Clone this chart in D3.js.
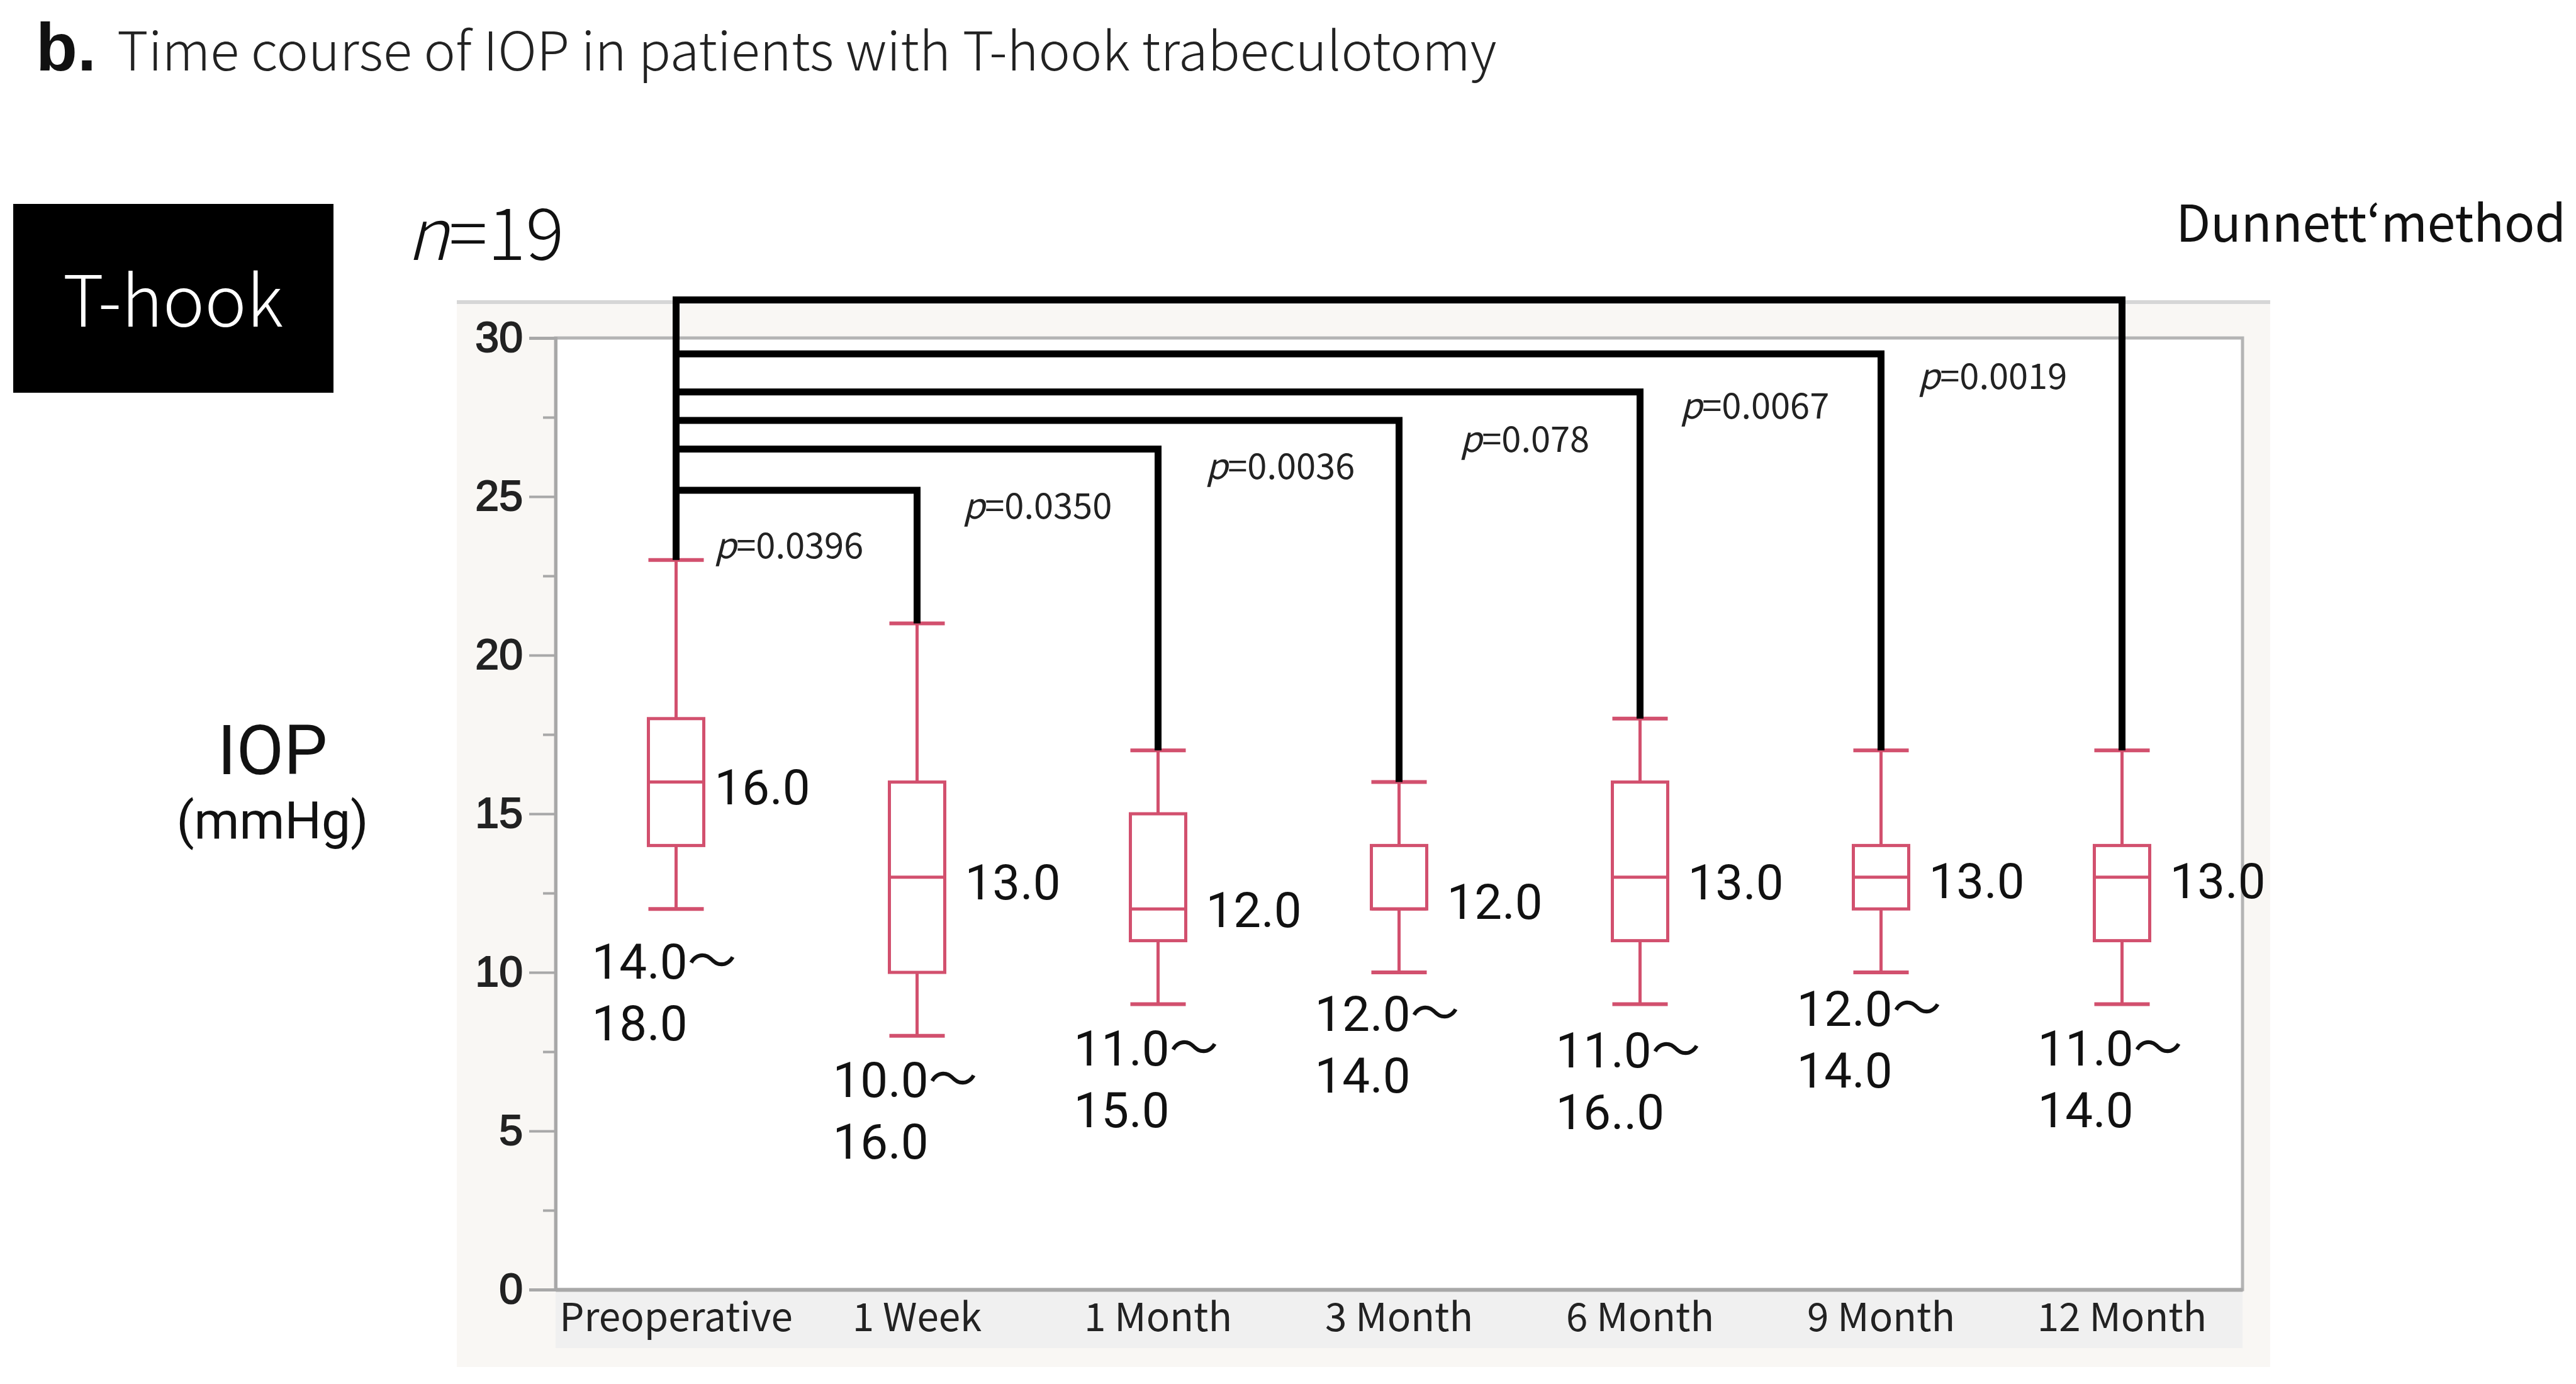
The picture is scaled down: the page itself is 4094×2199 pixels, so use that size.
<!DOCTYPE html>
<html>
<head>
<meta charset="utf-8">
<script src="https://cdn.jsdelivr.net/npm/d3@7"></script>
<style>
  body { margin: 0; background: #fff; }
  svg { display: block; }
</style>
</head>
<body>
<svg id="chart"></svg>
<script>
// Data
const categories = ["Preoperative", "1 Week", "1 Month", "3 Month", "6 Month", "9 Month", "12 Month"];
const whiskerLow  = [12, 8, 9, 10, 9, 10, 9];
const q1          = [14, 10, 11, 12, 11, 12, 11];
const median      = [16, 13, 12, 12, 13, 13, 13];
const q3          = [18, 16, 15, 14, 16, 14, 14];
const whiskerHigh = [23, 21, 17, 16, 18, 17, 17];
const medianLabels = ["16.0", "13.0", "12.0", "12.0", "13.0", "13.0", "13.0"];
const iqrLow  = ["14.0", "10.0", "11.0", "12.0", "11.0", "12.0", "11.0"];
const iqrHigh = ["18.0", "16.0", "15.0", "14.0", "16..0", "14.0", "14.0"];
const pValues = ["0.0396", "0.0350", "0.0036", "0.078", "0.0067", "0.0019"];
// bracket height (IOP units) for Preoperative vs each later visit
const bracketLevels = [25.2, 26.5, 27.4, 28.3, 29.5, 31.2];
const yTicks = [0, 5, 10, 15, 20, 25, 30];
const yMinorTicks = [2.5, 7.5, 12.5, 17.5, 22.5, 27.5];

// label nudges in pixels (hand placed in the original figure)
const medianLabelDrop = [9, 9, 2, -11, 9, 7, 7];
const iqrLabelDrop = [84, 71, 71, 66, 74, 58, 71];
const pLabelDrop = [83, 86, 68, 70, 78, 116];
const pLabelShift = [61, 73, 76, 97, 64, 59];

const W = 4094, H = 2199;
const font = "'Noto Sans CJK JP', 'Noto Sans', sans-serif";
const numFont = "Roboto, 'Noto Sans CJK JP', sans-serif";
const boxColor = "#d2506e";

const svg = d3.select("#chart")
  .attr("width", W)
  .attr("height", H)
  .attr("viewBox", `0 0 ${W} ${H}`)
  .style("font-family", font);

// plot region
const plot = { left: 883, right: 3564, top: 537, bottom: 2049 };

const x = d3.scaleBand()
  .domain(categories)
  .range([plot.left, plot.right])
  .padding(0);

const y = d3.scaleLinear()
  .domain([0, 30])
  .range([plot.bottom, plot.top]);

// Title
svg.append("text")
  .attr("x", 57)
  .attr("y", 112)
  .attr("font-family", "'Liberation Sans', Arial, sans-serif")
  .attr("font-weight", "bold")
  .attr("font-size", 108)
  .attr("fill", "#111")
  .text("b.");
svg.append("text")
  .attr("x", 186)
  .attr("y", 112)
  .attr("font-size", 85)
  .attr("font-weight", 300)
  .attr("fill", "#222")
  .text("Time course of IOP in patients with T-hook trabeculotomy");

// T-hook badge
svg.append("rect")
  .attr("x", 21).attr("y", 324)
  .attr("width", 509).attr("height", 300)
  .attr("fill", "#000");
svg.append("text")
  .attr("x", 275).attr("y", 470)
  .attr("text-anchor", "middle")
  .attr("dominant-baseline", "central")
  .attr("fill", "#fff")
  .attr("font-size", 112)
  .attr("font-weight", 300)
  .text("T-hook");

// n=19
const nText = svg.append("text")
  .attr("x", 646).attr("y", 413)
  .attr("font-size", 114)
  .attr("font-weight", 300)
  .attr("fill", "#111");
nText.append("tspan").attr("font-style", "italic").text("n");
nText.append("tspan").text("=19");

// Dunnett label
svg.append("text")
  .attr("x", 4078).attr("y", 384)
  .attr("text-anchor", "end")
  .attr("font-size", 80)
  .attr("fill", "#111")
  .text("Dunnett\u2018method");

// Y axis title
svg.append("text")
  .attr("x", 433).attr("y", 1192)
  .attr("text-anchor", "middle")
  .attr("dominant-baseline", "central")
  .attr("font-family", numFont)
  .attr("font-size", 110)
  .attr("fill", "#111")
  .text("IOP");
svg.append("text")
  .attr("x", 433).attr("y", 1304)
  .attr("text-anchor", "middle")
  .attr("dominant-baseline", "central")
  .attr("font-family", numFont)
  .attr("font-size", 82)
  .attr("fill", "#111")
  .text("(mmHg)");

// Panel background (JMP-like)
svg.append("rect")
  .attr("x", 726).attr("y", 478)
  .attr("width", 3608 - 726).attr("height", 2172 - 478)
  .attr("fill", "#f9f7f4");
svg.append("line")
  .attr("x1", 726).attr("x2", 3608)
  .attr("y1", 480).attr("y2", 480)
  .attr("stroke", "#d6d6d6")
  .attr("stroke-width", 6);

// X label strip
svg.append("rect")
  .attr("x", plot.left).attr("y", plot.bottom)
  .attr("width", plot.right - plot.left).attr("height", 2142 - plot.bottom)
  .attr("fill", "#f0f0f0");

// Plot area
svg.append("rect")
  .attr("x", plot.left).attr("y", plot.top)
  .attr("width", plot.right - plot.left).attr("height", plot.bottom - plot.top)
  .attr("fill", "#fff")
  .attr("stroke", "#b4b4b4")
  .attr("stroke-width", 5);

// Y axis
const yAxis = svg.append("g")
  .attr("transform", `translate(${plot.left},0)`)
  .call(d3.axisLeft(y).tickValues(yTicks).tickSize(42).tickPadding(10));
yAxis.select(".domain").attr("stroke", "#a8a8a8").attr("stroke-width", 5);
yAxis.selectAll(".tick line").attr("stroke", "#a8a8a8").attr("stroke-width", 4);
yAxis.selectAll(".tick text")
  .attr("font-family", "'Liberation Sans', Arial, sans-serif")
  .attr("font-size", 68)
  .attr("fill", "#222")
  .attr("stroke", "#222")
  .attr("stroke-width", 2);

const yMinor = svg.append("g")
  .attr("transform", `translate(${plot.left},0)`)
  .call(d3.axisLeft(y).tickValues(yMinorTicks).tickSize(20).tickFormat(""));
yMinor.select(".domain").remove();
yMinor.selectAll(".tick line").attr("stroke", "#a8a8a8").attr("stroke-width", 4);

// X axis
const xAxis = svg.append("g")
  .attr("transform", `translate(0,${plot.bottom})`)
  .call(d3.axisBottom(x).tickSize(0).tickPadding(22));
xAxis.select(".domain").attr("stroke", "#a8a8a8").attr("stroke-width", 6);
xAxis.selectAll(".tick text")
  .attr("font-family", font)
  .attr("font-size", 62)
  .attr("fill", "#222");

// Box plots
const rows = categories.map((c, i) => ({
  cat: c, lo: whiskerLow[i], q1: q1[i], med: median[i], q3: q3[i], hi: whiskerHigh[i],
  medLabel: medianLabels[i], iqrLo: iqrLow[i], iqrHi: iqrHigh[i]
}));

const boxW = 88;
const cx = d => x(d.cat) + x.bandwidth() / 2;

const boxes = svg.append("g").selectAll("g")
  .data(rows)
  .enter().append("g");

boxes.append("line")
  .attr("x1", cx).attr("x2", cx)
  .attr("y1", d => y(d.hi)).attr("y2", d => y(d.q3))
  .attr("stroke", boxColor).attr("stroke-width", 5);
boxes.append("line")
  .attr("x1", cx).attr("x2", cx)
  .attr("y1", d => y(d.q1)).attr("y2", d => y(d.lo))
  .attr("stroke", boxColor).attr("stroke-width", 5);
boxes.append("line")
  .attr("x1", d => cx(d) - boxW / 2).attr("x2", d => cx(d) + boxW / 2)
  .attr("y1", d => y(d.hi)).attr("y2", d => y(d.hi))
  .attr("stroke", boxColor).attr("stroke-width", 6);
boxes.append("line")
  .attr("x1", d => cx(d) - boxW / 2).attr("x2", d => cx(d) + boxW / 2)
  .attr("y1", d => y(d.lo)).attr("y2", d => y(d.lo))
  .attr("stroke", boxColor).attr("stroke-width", 6);
boxes.append("rect")
  .attr("x", d => cx(d) - boxW / 2)
  .attr("y", d => y(d.q3))
  .attr("width", boxW)
  .attr("height", d => y(d.q1) - y(d.q3))
  .attr("fill", "none")
  .attr("stroke", boxColor).attr("stroke-width", 5);
boxes.append("line")
  .attr("x1", d => cx(d) - boxW / 2).attr("x2", d => cx(d) + boxW / 2)
  .attr("y1", d => y(d.med)).attr("y2", d => y(d.med))
  .attr("stroke", boxColor).attr("stroke-width", 5);

// Median labels
boxes.append("text")
  .attr("x", (d, i) => cx(d) + boxW / 2 + (i === 0 ? 17 : 32))
  .attr("y", (d, i) => y(d.med) + medianLabelDrop[i])
  .attr("dominant-baseline", "central")
  .attr("font-family", numFont)
  .attr("font-size", 78)
  .attr("fill", "#111")
  .text(d => d.medLabel);

// IQR labels (two lines)
boxes.append("text")
  .attr("x", d => cx(d) - 134)
  .attr("y", (d, i) => y(d.lo) + iqrLabelDrop[i])
  .attr("dominant-baseline", "central")
  .attr("font-family", numFont)
  .attr("font-size", 78)
  .attr("fill", "#111")
  .text(d => d.iqrLo + "\u301C");
boxes.append("text")
  .attr("x", d => cx(d) - 134)
  .attr("y", (d, i) => y(d.lo) + iqrLabelDrop[i] + 98)
  .attr("dominant-baseline", "central")
  .attr("font-family", numFont)
  .attr("font-size", 78)
  .attr("fill", "#111")
  .text(d => d.iqrHi);

// Dunnett brackets: Preoperative vs each later visit
const ref = rows[0];
const brackets = svg.append("g")
  .attr("fill", "none")
  .attr("stroke", "#000")
  .attr("stroke-width", 11)
  .attr("stroke-linejoin", "miter");

brackets.append("line")
  .attr("x1", cx(ref)).attr("x2", cx(ref))
  .attr("y1", y(ref.hi)).attr("y2", y(d3.max(bracketLevels)) - 5.5);

brackets.selectAll("path")
  .data(rows.slice(1))
  .enter().append("path")
  .attr("d", (d, i) => {
    const lv = y(bracketLevels[i]);
    return `M${cx(ref)},${lv}H${cx(d)}V${y(d.hi)}`;
  });

// p-value labels, placed right of the previous visit, under each bracket
const pText = svg.append("g").selectAll("text")
  .data(pValues)
  .enter().append("text")
  .attr("x", (d, i) => cx(rows[i]) + pLabelShift[i])
  .attr("y", (d, i) => y(bracketLevels[i]) + pLabelDrop[i])
  .attr("dominant-baseline", "central")
  .attr("font-size", 56)
  .attr("fill", "#222");
pText.append("tspan").attr("font-style", "italic").text("p");
pText.append("tspan").text(d => "=" + d);
</script>
</body>
</html>
